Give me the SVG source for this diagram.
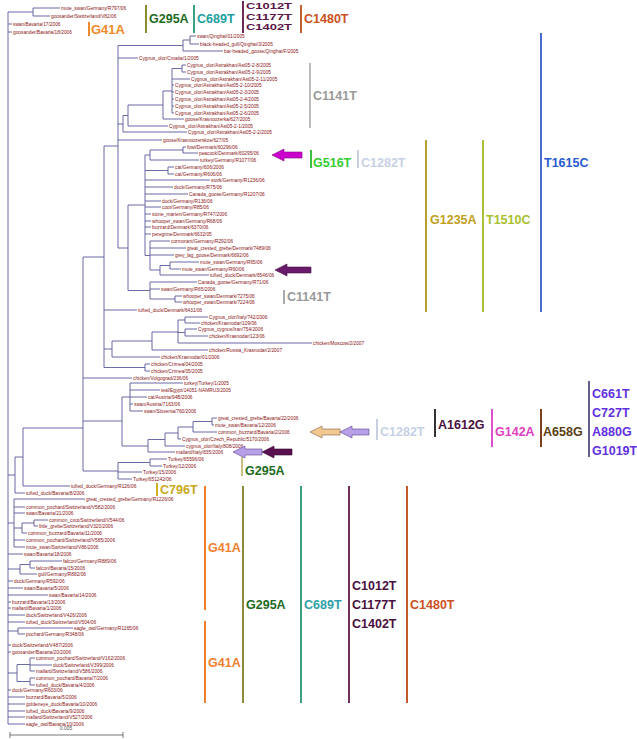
<svg xmlns="http://www.w3.org/2000/svg" width="637" height="740" viewBox="0 0 637 740">
<style>
.br{fill:none;stroke:#5a5a9c;stroke-width:0.9}
.lf{font-family:"Liberation Sans",Arial,sans-serif;font-size:4.8px;fill:#8b1414;dominant-baseline:central}
.mt{font-family:"Liberation Sans",Arial,sans-serif;font-size:12.5px;font-weight:bold;dominant-baseline:central}
.bar{stroke-width:2;fill:none}
</style>
<rect width="637" height="740" fill="#ffffff"/>
<g id="connectors">
<path class="br" d="M8 12V724M8 12H33M8 24H12M8 32H12M8 475H15M8 523H14M8 554H23M8 569H20M8 581H13M8 588H23M8 595H48M8 602H11M8 608H11M8 615H25M8 622H25M8 631H18M8 645H11M8 652H11M8 673H17M8 690H11M8 697H25M8 704H25M8 711H25M8 717H25M8 724H25
M33 8V16M33 8H60M33 16H50
M15 457V493M15 457H23M15 493H25
M23 428V486M23 428H83M23 486H70
M83 257V471M83 257H104M83 378H132M83 421H122M83 471H118
M118 462.5V479M118 462.5H150M118 472H142M118 479H132
M150 459V466M150 459H167M150 466H162
M122 397V446M122 397H130M122 446H148
M130 383V411M130 383H183M130 390H160M130 397H147M130 404H133M130 411H143
M148 439.5V452M148 439.5H165M148 452H175
M165 433V446M165 433H178M165 446H185
M178 427V439M178 427H193M178 439H181
M193 421.5V432M193 421.5H212M193 432H217
M212 418V425M212 418H217M212 425H214
M104 146V367.5M104 146H118M104 310H137M104 349H112M104 367.5H145
M145 364V371M145 364H150M145 371H150
M112 341V357M112 341H152M112 357H160
M152 332V350M152 332H178M152 350H208
M178 320V343M178 320H185M178 332.5H185M178 343H312
M185 317V323M185 317H208M185 323H200
M185 329V336M185 329H197M185 336H208
M118 45.5V248M118 45.5H183M118 58H138M118 124H123M118 140H162M118 248H128
M183 40V51M183 40H190M183 51H223
M190 36V44M190 36H196M190 44H199
M123 115.5V132M123 115.5H128M123 132H187
M128 105V126M128 105H163M128 126H168
M163 91V119M163 91H172M163 119H184
M172 68.5V113M172 68.5H182M172 79H190M172 85H174M172 92H174M172 99H174M172 106H174M172 113H174
M182 65V72M182 65H186M182 72H186
M128 205V290.5M128 205H145M128 290.5H150
M145 155V255.5M145 155H150M145 170.5H168M145 180H210M145 187H173M145 194H188M145 201H161M145 207H161M145 214H151M145 221H151M145 227H151M145 234H151M145 255.5H150
M150 150V160M150 150H183M150 160H199
M183 147V153M183 147H186M183 153H198
M168 167V174M168 167H174M168 174H174
M150 241V270M150 241H170M150 248H186M150 255H174M150 270H160
M160 265.5V275M160 265.5H170M160 275H209
M170 262V269M170 262H199M170 269H181
M150 282V299M150 282H197M150 289H160M150 299H175
M175 296V302M175 296H182M175 302H182
M14 499V547M14 499H85M14 507H25M14 513H25M14 528H22M14 540H25M14 547H25
M22 523V533M22 523H34M22 533H27
M34 520V526M34 520H48M34 526H38
M20 564.5V574M20 564.5H30M20 574H37
M30 561V568M30 561H62M30 568H35
M18 628V634M18 628H73M18 634H25
M17 664.5V681.5M17 664.5H30M17 681.5H30
M30 658V671M30 658H35M30 665H52M30 671H35
M30 678V685M30 678H35M30 685H35"/>
</g>
<g id="leaves">
<g id="leaf1"><text class="lf" x="61" y="8">mute_swan/Germany/R797/06</text></g>
<g id="leaf2"><text class="lf" x="51" y="16">goosander/Switzerland/V82/06</text></g>
<g id="leaf3"><text class="lf" x="13" y="24">swan/Bavaria/17/2006</text></g>
<g id="leaf4"><text class="lf" x="13" y="32">goosander/Bavaria/18/2006</text></g>
<g id="leaf5"><text class="lf" x="197" y="36">swan/Qinghai/01/2005</text></g>
<g id="leaf6"><text class="lf" x="200" y="44">black-headed_gull/Qinghai/3/2005</text></g>
<g id="leaf7"><text class="lf" x="224" y="51">bar-headed_goose/Qinghai/F/2005</text></g>
<g id="leaf8"><text class="lf" x="139" y="58">Cygnus_olor/Croatia/1/2005</text></g>
<g id="leaf9"><text class="lf" x="187" y="65">Cygnus_olor/Astrakhan/Ast05-2-8/2005</text></g>
<g id="leaf10"><text class="lf" x="187" y="72">Cygnus_olor/Astrakhan/Ast05-2-9/2005</text></g>
<g id="leaf11"><text class="lf" x="191" y="79">Cygnus_olor/Astrakhan/Ast05-2-11/2005</text></g>
<g id="leaf12"><text class="lf" x="175" y="85">Cygnus_olor/Astrakhan/Ast05-2-10/2005</text></g>
<g id="leaf13"><text class="lf" x="175" y="92">Cygnus_olor/Astrakhan/Ast05-2-3/2005</text></g>
<g id="leaf14"><text class="lf" x="175" y="99">Cygnus_olor/Astrakhan/Ast05-2-4/2005</text></g>
<g id="leaf15"><text class="lf" x="175" y="106">Cygnus_olor/Astrakhan/Ast05-2-5/2005</text></g>
<g id="leaf16"><text class="lf" x="175" y="113">Cygnus_olor/Astrakhan/Ast05-2-6/2005</text></g>
<g id="leaf17"><text class="lf" x="185" y="119">goose/Krasnoozerka/627/2005</text></g>
<g id="leaf18"><text class="lf" x="169" y="126">Cygnus_olor/Astrakhan/Ast05-2-1/2005</text></g>
<g id="leaf19"><text class="lf" x="188" y="132">Cygnus_olor/Astrakhan/Ast05-2-2/2005</text></g>
<g id="leaf20"><text class="lf" x="163" y="140">goose/Krasnoozerskoe/627/05</text></g>
<g id="leaf21"><text class="lf" x="187" y="147">fowl/Denmark/60296/06</text></g>
<g id="leaf22"><text class="lf" x="199" y="153">peacock/Denmark/60295/06</text></g>
<g id="leaf23"><text class="lf" x="200" y="160">turkey/Germany/R1077/06</text></g>
<g id="leaf24"><text class="lf" x="175" y="167">cat/Germany/606/2006</text></g>
<g id="leaf25"><text class="lf" x="175" y="174">cat/Germany/R606/06</text></g>
<g id="leaf26"><text class="lf" x="211" y="180">stork/Germany/R1236/06</text></g>
<g id="leaf27"><text class="lf" x="174" y="187">duck/Germany/R75/06</text></g>
<g id="leaf28"><text class="lf" x="189" y="194">Canada_goose/Germany/R1207/06</text></g>
<g id="leaf29"><text class="lf" x="162" y="201">duck/Germany/R136/06</text></g>
<g id="leaf30"><text class="lf" x="162" y="207">coot/Germany/R85/06</text></g>
<g id="leaf31"><text class="lf" x="152" y="214">stone_marten/Germany/R747/2006</text></g>
<g id="leaf32"><text class="lf" x="152" y="221">whooper_swan/Germany/R68/06</text></g>
<g id="leaf33"><text class="lf" x="152" y="227">buzzard/Denmark/6370/06</text></g>
<g id="leaf34"><text class="lf" x="152" y="234">peregrine/Denmark/6632/05</text></g>
<g id="leaf35"><text class="lf" x="171" y="241">cormorant/Germany/R292/06</text></g>
<g id="leaf36"><text class="lf" x="187" y="248">great_crested_grebe/Denmark/7489/06</text></g>
<g id="leaf37"><text class="lf" x="175" y="255">grey_lag_goose/Denmark/6692/06</text></g>
<g id="leaf38"><text class="lf" x="200" y="262">mute_swan/Germany/R65/06</text></g>
<g id="leaf39"><text class="lf" x="182" y="269">mute_swan/Germany/R60/06</text></g>
<g id="leaf40"><text class="lf" x="210" y="275">tufted_duck/Denmark/6546/06</text></g>
<g id="leaf41"><text class="lf" x="198" y="282">Canada_goose/Germany/R71/06</text></g>
<g id="leaf42"><text class="lf" x="161" y="289">swan/Germany/R65/2006</text></g>
<g id="leaf43"><text class="lf" x="183" y="296">whooper_swan/Denmark/7275/06</text></g>
<g id="leaf44"><text class="lf" x="183" y="302">whooper_swan/Denmark/7224/06</text></g>
<g id="leaf45"><text class="lf" x="138" y="310">tufted_duck/Denmark/6431/06</text></g>
<g id="leaf46"><text class="lf" x="209" y="317">Cygnus_olor/Italy/742/2006</text></g>
<g id="leaf47"><text class="lf" x="201" y="323">chicken/Krasnodar/109/06</text></g>
<g id="leaf48"><text class="lf" x="198" y="329">Cygnus_cygnus/Iran/754/2006</text></g>
<g id="leaf49"><text class="lf" x="209" y="336">chicken/Krasnodar/123/06</text></g>
<g id="leaf50"><text class="lf" x="313" y="343">chicken/Moscow/2/2007</text></g>
<g id="leaf51"><text class="lf" x="209" y="350">chicken/Russia_Krasnodar/2/2007</text></g>
<g id="leaf52"><text class="lf" x="161" y="357">chicken/Krasnodar/01/2006</text></g>
<g id="leaf53"><text class="lf" x="151" y="364">chicken/Crimea/04/2005</text></g>
<g id="leaf54"><text class="lf" x="151" y="371">chicken/Crimea/05/2005</text></g>
<g id="leaf55"><text class="lf" x="133" y="378">chicken/Volgograd/236/06</text></g>
<g id="leaf56"><text class="lf" x="184" y="383">turkey/Turkey/1/2005</text></g>
<g id="leaf57"><text class="lf" x="161" y="390">teal/Egypt/14051-NAMRU3/2005</text></g>
<g id="leaf58"><text class="lf" x="148" y="397">cat/Austria/94B/2006</text></g>
<g id="leaf59"><text class="lf" x="134" y="404">swan/Austria/7163/06</text></g>
<g id="leaf60"><text class="lf" x="144" y="411">swan/Slovenia/760/2006</text></g>
<g id="leaf61"><text class="lf" x="218" y="418">great_crested_grebe/Bavaria/22/2006</text></g>
<g id="leaf62"><text class="lf" x="215" y="425">mute_swan/Bavaria/12/2006</text></g>
<g id="leaf63"><text class="lf" x="218" y="432">common_buzzard/Bavaria/2/2006</text></g>
<g id="leaf64"><text class="lf" x="182" y="439">Cygnus_olor/Czech_Republic/5170/2006</text></g>
<g id="leaf65"><text class="lf" x="186" y="446">cygnus_olor/Italy/808/2006</text></g>
<g id="leaf66"><text class="lf" x="176" y="452">mallard/Italy/835/2006</text></g>
<g id="leaf67"><text class="lf" x="168" y="459">Turkey/65596/06</text></g>
<g id="leaf68"><text class="lf" x="163" y="466">Turkey/12/2006</text></g>
<g id="leaf69"><text class="lf" x="143" y="472">Turkey/15/2006</text></g>
<g id="leaf70"><text class="lf" x="133" y="479">Turkey/651242/06</text></g>
<g id="leaf71"><text class="lf" x="71" y="486">tufted_duck/Germany/R126/06</text></g>
<g id="leaf72"><text class="lf" x="26" y="493">tufted_duck/Bavaria/8/2006</text></g>
<g id="leaf73"><text class="lf" x="86" y="499">great_crested_grebe/Germany/R1226/06</text></g>
<g id="leaf74"><text class="lf" x="26" y="507">common_pochard/Switzerland/V582/2006</text></g>
<g id="leaf75"><text class="lf" x="26" y="513">swan/Bavaria/21/2006</text></g>
<g id="leaf76"><text class="lf" x="49" y="520">common_coot/Switzerland/V544/06</text></g>
<g id="leaf77"><text class="lf" x="39" y="526">little_grebe/Switzerland/V320/2006</text></g>
<g id="leaf78"><text class="lf" x="28" y="533">common_buzzard/Bavaria/11/2006</text></g>
<g id="leaf79"><text class="lf" x="26" y="540">common_pochard/Switzerland/V585/2006</text></g>
<g id="leaf80"><text class="lf" x="26" y="547">mute_swan/Switzerland/V86/2006</text></g>
<g id="leaf81"><text class="lf" x="24" y="554">swan/Bavaria/18/2006</text></g>
<g id="leaf82"><text class="lf" x="63" y="561">falcon/Germany/R889/06</text></g>
<g id="leaf83"><text class="lf" x="36" y="568">falcon/Bavaria/15/2006</text></g>
<g id="leaf84"><text class="lf" x="38" y="574">gull/Germany/R882/06</text></g>
<g id="leaf85"><text class="lf" x="14" y="581">duck/Germany/R592/06</text></g>
<g id="leaf86"><text class="lf" x="24" y="588">swan/Bavaria/5/2006</text></g>
<g id="leaf87"><text class="lf" x="49" y="595">swan/Bavaria/14/2006</text></g>
<g id="leaf88"><text class="lf" x="12" y="602">buzzard/Bavaria/13/2006</text></g>
<g id="leaf89"><text class="lf" x="12" y="608">mallard/Bavaria/1/2006</text></g>
<g id="leaf90"><text class="lf" x="26" y="615">duck/Switzerland/V426/2006</text></g>
<g id="leaf91"><text class="lf" x="26" y="622">tufted_duck/Switzerland/V504/06</text></g>
<g id="leaf92"><text class="lf" x="74" y="628">eagle_owl/Germany/R1165/06</text></g>
<g id="leaf93"><text class="lf" x="26" y="634">pochard/Germany/R348/06</text></g>
<g id="leaf94"><text class="lf" x="12" y="645">duck/Switzerland/V487/2006</text></g>
<g id="leaf95"><text class="lf" x="12" y="652">goosander/Bavaria/20/2006</text></g>
<g id="leaf96"><text class="lf" x="36" y="658">common_pochard/Switzerland/V162/2006</text></g>
<g id="leaf97"><text class="lf" x="53" y="665">duck/Switzerland/V399/2006</text></g>
<g id="leaf98"><text class="lf" x="36" y="671">mallard/Switzerland/V586/2006</text></g>
<g id="leaf99"><text class="lf" x="36" y="678">common_pochard/Bavaria/7/2006</text></g>
<g id="leaf100"><text class="lf" x="36" y="685">tufted_duck/Bavaria/4/2006</text></g>
<g id="leaf101"><text class="lf" x="12" y="690">duck/Germany/R603/06</text></g>
<g id="leaf102"><text class="lf" x="26" y="697">buzzard/Bavaria/5/2006</text></g>
<g id="leaf103"><text class="lf" x="26" y="704">goldeneye_duck/Bavaria/10/2006</text></g>
<g id="leaf104"><text class="lf" x="26" y="711">tufted_duck/Bavaria/9/2006</text></g>
<g id="leaf105"><text class="lf" x="26" y="717">mallard/Switzerland/V527/2006</text></g>
<g id="leaf106"><text class="lf" x="26" y="724">eagle_owl/Bavaria/10/2006</text></g>
</g>
<g id="scale">
<path d="M10 735H123M10 732V738M123 732V738" stroke="#555" stroke-width="0.8" fill="none"/>
<text x="66" y="730" text-anchor="middle" style="font-family:'Liberation Sans',Arial,sans-serif;font-size:5px;fill:#555">0.005</text>
</g>
<g id="mutations">
<g id="m-g41a-top"><line class="bar" x1="89" y1="22" x2="89" y2="36" stroke="#f08a30" stroke-width="1.2"/><text class="mt" x="91" y="29" fill="#f08a2a" style="font-size:13px">G41A</text></g>
<g id="m-g295a-top"><line class="bar" x1="146" y1="5" x2="146" y2="33" stroke="#8b8b30"/><text class="mt" x="149" y="19" fill="#1e6b1e">G295A</text></g>
<g id="m-c689t-top"><line class="bar" x1="194" y1="5" x2="194" y2="33" stroke="#3aa080"/><text class="mt" x="197" y="19" fill="#20a0a0">C689T</text></g>
<g id="m-c1012t-top"><line class="bar" x1="243" y1="1" x2="243" y2="33" stroke="#6a2a5a"/><text class="mt" fill="#5a1448" style="font-size:9px"><tspan x="246" y="5.8" textLength="46" lengthAdjust="spacingAndGlyphs">C1012T</tspan><tspan x="246" y="16.5" textLength="46" lengthAdjust="spacingAndGlyphs">C1177T</tspan><tspan x="246" y="27.2" textLength="46" lengthAdjust="spacingAndGlyphs">C1402T</tspan></text></g>
<g id="m-c1480t-top"><line class="bar" x1="301" y1="5" x2="301" y2="33" stroke="#c06030"/><text class="mt" x="304" y="19" fill="#cc5020">C1480T</text></g>
<g id="m-c1141t-a"><line class="bar" x1="310" y1="63" x2="310" y2="128" stroke="#bbbbbb"/><text class="mt" x="313" y="96" fill="#999999">C1141T</text></g>
<g id="m-g516t"><line class="bar" x1="311" y1="150" x2="311" y2="168" stroke="#40c040"/><text class="mt" x="313" y="163" fill="#33cc33">G516T</text></g>
<g id="m-c1282t-a"><line class="bar" x1="358" y1="150" x2="358" y2="168" stroke="#c8d0e0" stroke-width="1.2"/><text class="mt" x="361" y="163" fill="#c8d0e6">C1282T</text></g>
<g id="m-g1235a"><line class="bar" x1="426" y1="140" x2="426" y2="312" stroke="#b8a030"/><text class="mt" x="430" y="220" fill="#c0a020">G1235A</text></g>
<g id="m-t1510c"><line class="bar" x1="483" y1="140" x2="483" y2="312" stroke="#a8c038"/><text class="mt" x="486" y="220" fill="#a8c030">T1510C</text></g>
<g id="m-t1615c"><line class="bar" x1="541" y1="33" x2="541" y2="312" stroke="#4a6ad0"/><text class="mt" x="544" y="163" fill="#2a5ad0">T1615C</text></g>
<g id="m-c1141t-b"><line class="bar" x1="284" y1="290" x2="284" y2="304" stroke="#aaaaaa" stroke-width="1.2"/><text class="mt" x="287" y="297" fill="#999999">C1141T</text></g>
<g id="m-c1282t-b"><line class="bar" x1="377" y1="419" x2="377" y2="440" stroke="#c8d0e0"/><text class="mt" x="380" y="432" fill="#c8d0e6">C1282T</text></g>
<g id="m-a1612g"><line class="bar" x1="435" y1="409" x2="435" y2="437" stroke="#333333"/><text class="mt" x="438" y="425" fill="#4a1040">A1612G</text></g>
<g id="m-g142a"><line class="bar" x1="492" y1="409" x2="492" y2="447" stroke="#e050d0"/><text class="mt" x="495" y="432" fill="#e040c0">G142A</text></g>
<g id="m-a658g"><line class="bar" x1="541" y1="409" x2="541" y2="447" stroke="#7a4020"/><text class="mt" x="543" y="432" fill="#5a4010">A658G</text></g>
<g id="m-c661t"><line class="bar" x1="589" y1="381" x2="589" y2="457" stroke="#60608a"/><text class="mt" x="592" y="394" fill="#6030e0">C661T</text><text class="mt" x="592" y="413" fill="#6030e0">C727T</text><text class="mt" x="592" y="432" fill="#6030e0">A880G</text><text class="mt" x="592" y="451" fill="#6030e0">G1019T</text></g>
<g id="m-g295a-mid"><line class="bar" x1="242" y1="457" x2="242" y2="476" stroke="#c8c080"/><text class="mt" x="245" y="471" fill="#1e6b1e">G295A</text></g>
<g id="m-c796t"><line class="bar" x1="157" y1="483" x2="157" y2="496" stroke="#d0b020" stroke-width="1.2"/><text class="mt" x="160" y="490" fill="#c8a820">C796T</text></g>
<g id="m-g41a-bot"><line class="bar" x1="205" y1="486" x2="205" y2="610" stroke="#f08030"/><line class="bar" x1="205" y1="621" x2="205" y2="703" stroke="#f08030"/><text class="mt" x="208" y="548" fill="#f08030">G41A</text><text class="mt" x="208" y="663" fill="#f08030">G41A</text></g>
<g id="m-g295a-bot"><line class="bar" x1="243" y1="486" x2="243" y2="703" stroke="#8b8b3a"/><text class="mt" x="246" y="605" fill="#1e6b1e">G295A</text></g>
<g id="m-c689t-bot"><line class="bar" x1="301" y1="486" x2="301" y2="703" stroke="#3aa080"/><text class="mt" x="304" y="605" fill="#30a0a8">C689T</text></g>
<g id="m-c1012t-bot"><line class="bar" x1="349" y1="486" x2="349" y2="703" stroke="#70305e"/><text class="mt" x="352" y="586" fill="#4a1040">C1012T</text><text class="mt" x="352" y="605" fill="#4a1040">C1177T</text><text class="mt" x="352" y="624" fill="#4a1040">C1402T</text></g>
<g id="m-c1480t-bot"><line class="bar" x1="407" y1="486" x2="407" y2="703" stroke="#c05a28"/><text class="mt" x="410" y="605" fill="#cc5020">C1480T</text></g>
</g>
<g id="arrows" stroke-width="0.6">
<path id="arrow-magenta" d="M272 155L284 149L284 152L302 152L302 158L284 158L284 161Z" fill="#cc00cc" stroke="#800080"/>
<path id="arrow-purple-a" d="M275 270L287 264L287 267L311 267L311 273L287 273L287 276Z" fill="#6a1a6a" stroke="#401040"/>
<path id="arrow-tan" d="M310 432L322 426L322 429L340 429L340 435L322 435L322 438Z" fill="#f0c890" stroke="#806040"/>
<path id="arrow-lav-a" d="M340 432L352 426L352 429L369 429L369 435L352 435L352 438Z" fill="#b8a0e8" stroke="#604090"/>
<path id="arrow-lav-b" d="M233 452L245 446L245 449L262 449L262 455L245 455L245 458Z" fill="#b8a0e8" stroke="#604090"/>
<path id="arrow-purple-b" d="M262 452L274 446L274 449L292 449L292 455L274 455L274 458Z" fill="#5a1050" stroke="#300830"/>
</g>
</svg>
